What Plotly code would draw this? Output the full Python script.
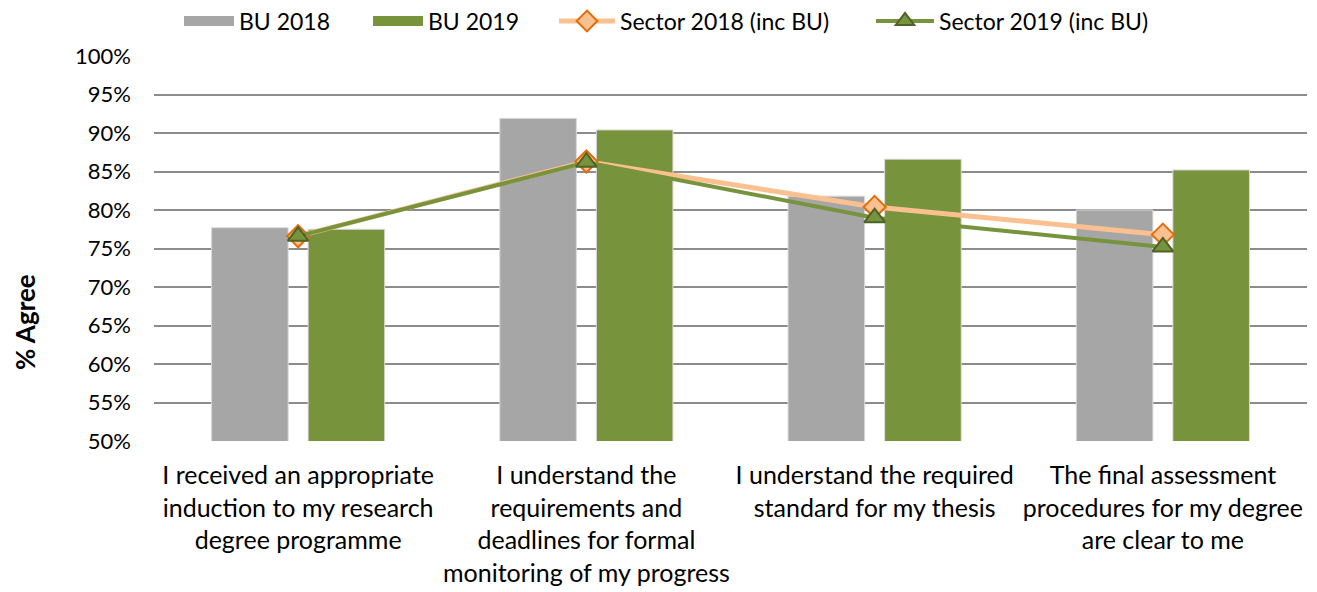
import plotly.graph_objects as go

categories = [
    "I received an appropriate<br>induction to my research<br>degree programme",
    "I understand the<br>requirements and<br>deadlines for formal<br>monitoring of my progress",
    "I understand the required<br>standard for my thesis",
    "The final assessment<br>procedures for my degree<br>are clear to me",
]
bu_2018 = [77.7, 91.9, 81.8, 80.0]
bu_2019 = [77.5, 90.4, 86.6, 85.2]
sector_2018 = [76.6, 86.3, 80.4, 76.8]
sector_2019 = [76.6, 86.2, 79.0, 75.2]
y_ticks = [50, 55, 60, 65, 70, 75, 80, 85, 90, 95, 100]
y_tick_labels = ["50%", "55%", "60%", "65%", "70%", "75%", "80%", "85%", "90%", "95%", "100%"]

FONT = "Lato"
GRAY = "#A6A6A6"
GREEN = "#77933C"
PEACH = "#FAC090"
ORANGE = "#E46C0A"
DKGREEN = "#4F6228"

W, H = 1309, 584  # page body has an 8px margin

fig = go.Figure()
fig.add_trace(go.Bar(name="BU 2018", x=categories, y=bu_2018, showlegend=False,
                     legendgroup="b18",
                     marker=dict(color=GRAY, line=dict(color="#D9D9D9", width=1))))
fig.add_trace(go.Bar(name="BU 2019", x=categories, y=bu_2019, showlegend=False,
                     legendgroup="b19",
                     marker=dict(color=GREEN, line=dict(color="#D9D9D9", width=1))))
# legend swatches for the bar series (wide rectangles as in the reference)
fig.add_trace(go.Scatter(name="BU 2018", x=[None], y=[None], mode="lines",
                         legendgroup="b18", legend="legend",
                         line=dict(color=GRAY, width=17)))
fig.add_trace(go.Scatter(name="BU 2019", x=[None], y=[None], mode="lines",
                         legendgroup="b19", legend="legend2",
                         line=dict(color=GREEN, width=17)))
fig.add_trace(go.Scatter(name="Sector 2018 (inc BU)", x=categories, y=sector_2018,
                         mode="lines+markers", legend="legend3",
                         line=dict(color=PEACH, width=5),
                         marker=dict(symbol="diamond", size=17, color=PEACH,
                                     line=dict(color=ORANGE, width=2))))
fig.add_trace(go.Scatter(name="Sector 2019 (inc BU)", x=categories, y=sector_2019,
                         mode="lines+markers", legend="legend4",
                         line=dict(color=GREEN, width=4),
                         marker=dict(symbol="triangle-up", size=18, color=GREEN,
                                     line=dict(color=DKGREEN, width=2))))


def leg(px_left, itemwidth):
    return dict(orientation="h", xref="container", yref="container",
                x=(px_left - 8) / W, xanchor="left",
                y=1 - (21 - 8) / H, yanchor="middle",
                font=dict(size=23), itemwidth=itemwidth,
                bgcolor="rgba(0,0,0,0)", borderwidth=0)


fig.update_layout(
    width=W, height=H,
    margin=dict(l=146, r=10, t=48, b=151, autoexpand=False),
    paper_bgcolor="white", plot_bgcolor="white",
    font=dict(family=FONT, size=22, color="#000000"),
    barmode="group", bargap=0.33, bargroupgap=0.207,
    showlegend=True,
    legend=leg(183 - 4, 50),
    legend2=leg(372 - 4, 50),
    legend3=leg(558 - 4, 56),
    legend4=leg(875 - 4, 58),
    annotations=[dict(text="<b>% Agree</b>", x=-0.112, y=0.309, xref="paper", yref="paper",
                      textangle=-90, showarrow=False, font=dict(size=26),
                      xanchor="center", yanchor="middle")],
)
fig.update_yaxes(range=[50, 100], tickvals=y_ticks, ticktext=y_tick_labels,
                 showgrid=True, gridcolor="#8C8C8C", gridwidth=1.5,
                 zeroline=False, showline=False, ticks="", ticklabelstandoff=22,
                 tickfont=dict(size=22), automargin=False)
fig.update_xaxes(showgrid=False, showline=False, ticks="", ticklabelstandoff=17,
                 tickfont=dict(size=25), tickangle=0, automargin=False)

fig.write_html("out.html")
